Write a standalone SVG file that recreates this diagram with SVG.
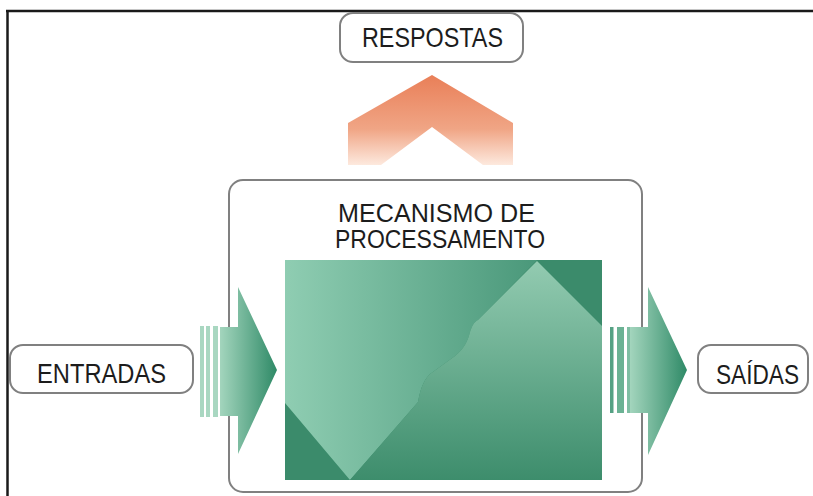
<svg xmlns="http://www.w3.org/2000/svg" width="813" height="496" viewBox="0 0 813 496">
<defs>
<style>
.lbl{font-family:"Liberation Sans",Arial,sans-serif;font-size:28px;fill:#1c1c1c;}
.lbl2{font-family:"Liberation Sans",Arial,sans-serif;font-size:26px;fill:#1c1c1c;}
.box{fill:#fff;stroke:#808080;stroke-width:2;}
.stripe{fill:#a9d7c1;}
</style>
<linearGradient id="gArrow" x1="0" y1="0" x2="1" y2="0">
<stop offset="0" stop-color="#a3d5bd"/>
<stop offset="1" stop-color="#2f8a67"/>
</linearGradient>
<linearGradient id="gUp" x1="0" y1="0" x2="0" y2="1">
<stop offset="0" stop-color="#e97f58"/>
<stop offset="0.6" stop-color="#f0a585"/>
<stop offset="1" stop-color="#fde9de"/>
</linearGradient>
<linearGradient id="gA" x1="0" y1="0" x2="1" y2="0">
<stop offset="0" stop-color="#8fcdb2"/>
<stop offset="1" stop-color="#4a987a"/>
</linearGradient>
<linearGradient id="gB" x1="0" y1="0" x2="0" y2="1">
<stop offset="0" stop-color="#93cbb1"/>
<stop offset="1" stop-color="#3d8d6c"/>
</linearGradient>
</defs>
<rect width="813" height="496" fill="#fff"/>
<g id="frame">
<line x1="6" y1="11" x2="813" y2="11" stroke="#1a1a1a" stroke-width="2.5"/>
<line x1="7.5" y1="10" x2="7.5" y2="496" stroke="#1a1a1a" stroke-width="2.5"/>
</g>
<g id="processamento">
<rect class="box" x="229" y="180" width="413" height="312" rx="14"/>
<text class="lbl2"><tspan x="338" y="222" textLength="197" lengthAdjust="spacingAndGlyphs">MECANISMO DE</tspan><tspan x="335" y="248" textLength="210" lengthAdjust="spacingAndGlyphs">PROCESSAMENTO</tspan></text>
<rect x="285" y="260" width="317" height="220" fill="#3b8b6b"/>
<path d="M285,260 L537,260 L478,320 C474,322 472,326 470,332 C468,340 465,348 455,356 L430,374 C422,382 420,392 418,402 L350,480 L285,403 Z" fill="url(#gA)"/>
<path d="M350,480 L418,402 C420,392 422,382 430,374 L455,356 C465,348 468,340 470,332 C472,326 474,322 478,320 L537,261 L602,326 L602,480 Z" fill="url(#gB)"/>
</g>
<g id="respostas">
<rect class="box" x="340" y="13" width="183" height="49" rx="13"/>
<text class="lbl" x="362" y="47" textLength="141" lengthAdjust="spacingAndGlyphs">RESPOSTAS</text>
</g>
<g id="entradas">
<rect class="box" x="10" y="345" width="183" height="48" rx="13"/>
<text class="lbl" x="37" y="383" textLength="129" lengthAdjust="spacingAndGlyphs">ENTRADAS</text>
</g>
<g id="saidas">
<rect class="box" x="698" y="345" width="110" height="48" rx="13"/>
<text class="lbl" x="716" y="384" textLength="83" lengthAdjust="spacingAndGlyphs">SAÍDAS</text>
</g>
<g id="connectors">
<path d="M432,75 L513,123 L513,165 L483,165 L432,127 L381,165 L348,165 L348,123 Z" fill="url(#gUp)"/>
<rect class="stripe" x="200" y="326" width="4" height="91"/>
<rect class="stripe" x="206" y="326" width="4" height="91"/>
<rect class="stripe" x="213" y="326" width="5" height="91"/>
<path d="M220,327 L238,327 L238,287 L277,370 L238,454 L238,416 L220,416 Z" fill="url(#gArrow)"/>
<rect x="610" y="327" width="3.5" height="86" fill="#55a184"/>
<rect x="617" y="327" width="7" height="86" fill="#6bb294"/>
<rect x="627" y="327" width="3" height="86" fill="#7fbea3"/>
<path d="M630,327 L648,327 L648,287 L687,370 L648,455 L648,413 L630,413 Z" fill="url(#gArrow)"/>
</g>
</svg>
